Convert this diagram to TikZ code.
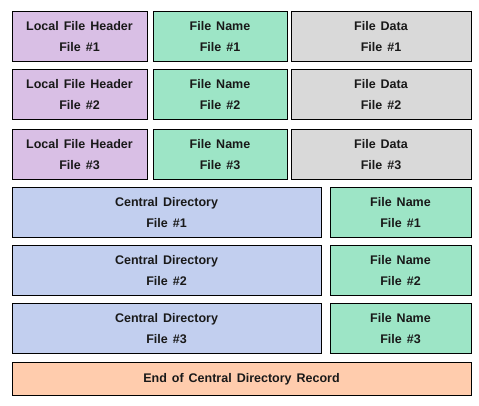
\documentclass[tikz,border=0pt]{standalone}
\usepackage{fontspec}
\setmainfont{Liberation Sans}
\newcommand\bxfont{\bfseries\fontsize{12.5}{21}\selectfont\spaceskip=0.4em\relax}
\begin{document}
\begin{tikzpicture}[x=1pt,y=-1pt,
  box/.style={draw=black,line width=1pt,font=\bxfont,text=black!90,align=center,inner sep=0pt},
  lfh/.style={box,fill=lfhc},
  fnm/.style={box,fill=fnc},
  fdt/.style={box,fill=fdc},
  cdr/.style={box,fill=cdc},
  eoc/.style={box,fill=eoc}]
\definecolor{lfhc}{HTML}{D9BFE5}
\definecolor{fnc}{HTML}{9DE5C6}
\definecolor{fdc}{HTML}{D9D9D9}
\definecolor{cdc}{HTML}{C2CFEF}
\definecolor{eoc}{HTML}{FFCCAD}
\useasboundingbox (0,0) rectangle (479,405);
\foreach \i/\t in {1/11,2/69,3/129}{
  \node[lfh,minimum width=135pt,minimum height=50pt] (lfh\i) at (79.5,\t+25.5) {Local File Header\\File \#\i};
  \node[fnm,minimum width=134pt,minimum height=50pt] (fn\i) at (220,\t+25.5) {File Name\\File \#\i};
  \node[fdt,minimum width=180pt,minimum height=50pt] (fd\i) at (381,\t+25.5) {File Data\\File \#\i};
}
\foreach \i/\t in {1/187,2/245,3/303}{
  \node[cdr,minimum width=309pt,minimum height=50pt] (cd\i) at (166.5,\t+25.5) {Central Directory\\File \#\i};
  \node[fnm,minimum width=141pt,minimum height=50pt] (cfn\i) at (400.5,\t+25.5) {File Name\\File \#\i};
}
\node[eoc,minimum width=459pt,minimum height=33pt] (eocd) at (241.5,379) {End of Central Directory Record};
\end{tikzpicture}
\end{document}
